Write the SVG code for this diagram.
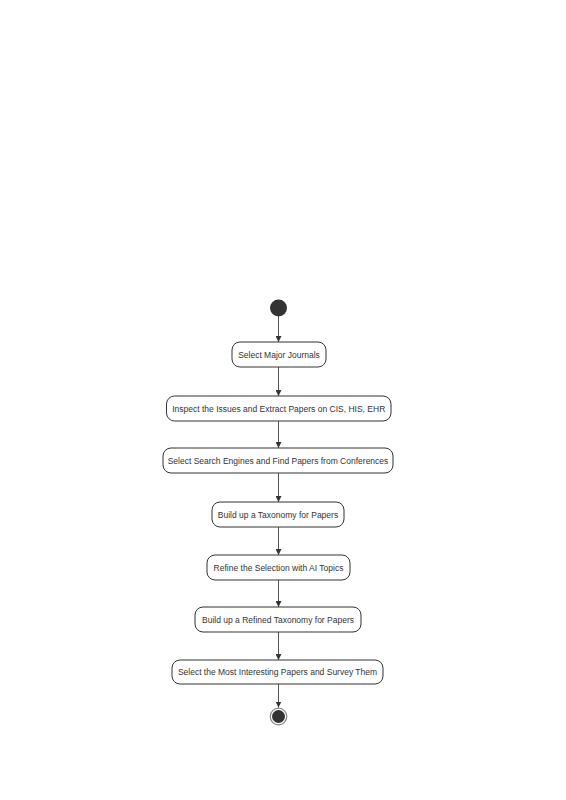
<svg xmlns="http://www.w3.org/2000/svg" width="566" height="800" viewBox="0 0 566 800">
<style>
.box{fill:#fff;stroke:#333;stroke-width:1}
.t{font-family:"Liberation Sans",Arial,sans-serif;font-size:8.5px;fill:#333;text-anchor:middle;dominant-baseline:central}
.c{stroke:#555;stroke-width:1;fill:none}
</style>
<defs>
<marker id="ah" viewBox="0 0 10 10" refX="10" refY="5" markerWidth="6" markerHeight="6" orient="auto" markerUnits="userSpaceOnUse">
<path d="M0,0 L10,5 L0,10 z" fill="#333"/>
</marker>
</defs>
<rect width="566" height="800" fill="#fff"/>
<g id="connectors">
<line class="c" x1="278.5" y1="316" x2="278.5" y2="342" marker-end="url(#ah)"/>
<line class="c" x1="278.5" y1="367" x2="278.5" y2="396" marker-end="url(#ah)"/>
<line class="c" x1="278.5" y1="421" x2="278.5" y2="448" marker-end="url(#ah)"/>
<line class="c" x1="278.5" y1="473" x2="278.5" y2="502" marker-end="url(#ah)"/>
<line class="c" x1="278.5" y1="527" x2="278.5" y2="555" marker-end="url(#ah)"/>
<line class="c" x1="278.5" y1="580" x2="278.5" y2="607" marker-end="url(#ah)"/>
<line class="c" x1="278.5" y1="632" x2="278.5" y2="660" marker-end="url(#ah)"/>
<line class="c" x1="278.5" y1="684" x2="278.5" y2="707.5" marker-end="url(#ah)"/>
</g>
<g id="start"><circle cx="278.5" cy="308" r="8.5" fill="#333"/></g>
<g id="n1"><rect class="box" x="232" y="342" width="94" height="25" rx="8"/><text class="t" x="279" y="354.5">Select Major Journals</text></g>
<g id="n2"><rect class="box" x="166.5" y="396" width="224.5" height="25" rx="8"/><text class="t" x="278.75" y="408.5">Inspect the Issues and Extract Papers on CIS, HIS, EHR</text></g>
<g id="n3"><rect class="box" x="163" y="448" width="230" height="25" rx="8"/><text class="t" x="278" y="460.5">Select Search Engines and Find Papers from Conferences</text></g>
<g id="n4"><rect class="box" x="212" y="502" width="132" height="25" rx="8"/><text class="t" x="278" y="514.5">Build up a Taxonomy for Papers</text></g>
<g id="n5"><rect class="box" x="207" y="555" width="143" height="25" rx="8"/><text class="t" x="278.5" y="567.5">Refine the Selection with AI Topics</text></g>
<g id="n6"><rect class="box" x="195" y="607" width="166" height="25" rx="8"/><text class="t" x="278" y="619.5">Build up a Refined Taxonomy for Papers</text></g>
<g id="n7"><rect class="box" x="172" y="660" width="211" height="24" rx="8"/><text class="t" x="277.5" y="672">Select the Most Interesting Papers and Survey Them</text></g>
<g id="end"><circle cx="278.5" cy="716.5" r="8.3" fill="#fff" stroke="#888" stroke-width="1.2"/><circle cx="278.5" cy="716.5" r="6.5" fill="#333"/></g>
</svg>
